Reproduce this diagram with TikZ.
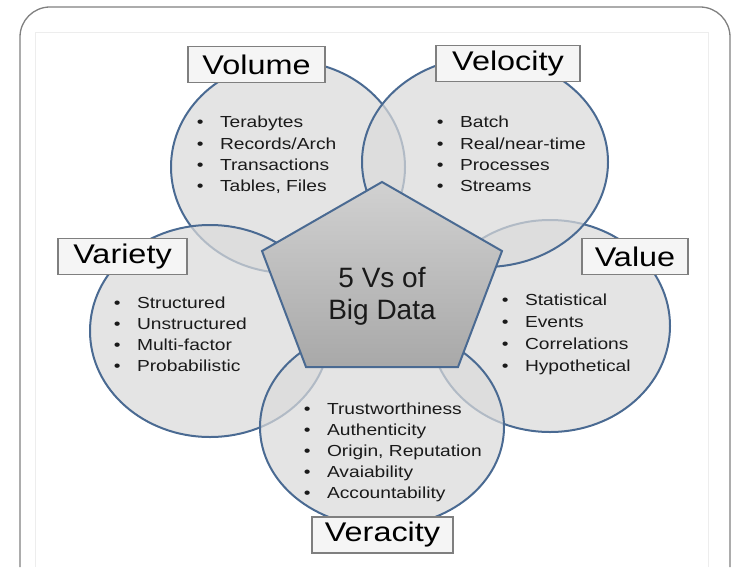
\documentclass[tikz,border=0pt]{standalone}
\usepackage{fontspec}
\setmainfont{Liberation Sans}
\newfontfamily\widesans[FakeStretch=1.2]{Liberation Sans}
\usetikzlibrary{shapes.geometric}
\definecolor{rim}{HTML}{4A6A92}
\definecolor{ovfill}{HTML}{DADADA}
\definecolor{boxrim}{HTML}{7F7F7F}
\definecolor{boxfill}{HTML}{F5F5F5}
\definecolor{txt}{HTML}{1A1A1A}
\tikzset{
  vell/.style={ellipse, draw=rim, line width=2pt, fill=ovfill, fill opacity=0.72, inner sep=0pt},
  vlabel/.style={rectangle, draw=boxrim, line width=1.4pt, fill=boxfill, inner sep=0pt,
                 minimum height=36pt, font=\widesans\fontsize{27}{30}\selectfont, text=black},
  blist/.style={anchor=base west, inner sep=0pt, font=\widesans\fontsize{16}{21.2}\selectfont, text=txt},
  frame/.style={draw=black!50, line width=1.3pt, rounded corners=30pt},
  pent/.style={draw=rim, line width=2pt, top color=black!18, bottom color=black!34}
}
\newcommand{\bl}[1]{\begin{tabular}[t]{@{}l@{\hspace{16.5pt}}l@{}}#1\end{tabular}}
\begin{document}
\begin{tikzpicture}[x=1pt,y=-1pt]
\useasboundingbox (0,0) rectangle (735,567);
% frame
\draw[frame] (20,567) -- (20,7) -- (730,7) -- (730,567);
\draw[draw=black!7, line width=1pt] (35,567) -- (35,33) -- (708,33) -- (708,567);
% ellipses (order matters for faded borders)
\node[vell, minimum width=234pt, minimum height=212pt] (vol) at (288,167) {};
\node[vell, minimum width=240pt, minimum height=212pt] (var) at (210,331) {};
\node[vell, minimum width=240pt, minimum height=212pt] (val) at (550,326) {};
\node[vell, minimum width=246pt, minimum height=210pt] (vel) at (485,162) {};
\node[vell, minimum width=244pt, minimum height=200pt] (ver) at (382,427) {};
% pentagon
\coordinate (p1) at (382,182);
\coordinate (p2) at (502,251);
\coordinate (p3) at (458,367);
\coordinate (p4) at (306,367);
\coordinate (p5) at (262,251);
\draw[pent] (p1) -- (p2) -- (p3) -- (p4) -- (p5) -- cycle;
\node[align=center, font=\fontsize{28}{32}\selectfont, text=txt] (core) at (382,296) {5 Vs of\\Big Data};
% lists
\node[blist] (volT) at (196.6,128) {\bl{•&Terabytes\\•&Records/Arch\\•&Transactions\\•&Tables, Files}};
\node[blist] (velT) at (436.6,128) {\bl{•&Batch\\•&Real/near-time\\•&Processes\\•&Streams}};
\node[blist] (varT) at (113.6,308) {\bl{•&Structured\\•&Unstructured\\•&Multi-factor\\•&Probabilistic}};
\node[blist, font=\widesans\fontsize{16}{22}\selectfont] (valT) at (501.6,305) {\bl{•&Statistical\\•&Events\\•&Correlations\\•&Hypothetical}};
\node[blist] (verT) at (303.6,414) {\bl{•&Trustworthiness\\•&Authenticity\\•&Origin, Reputation\\•&Avaiability\\•&Accountability}};
% labels
\node[vlabel, minimum width=137pt] (volL) at (256.5,64.5) {Volume};
\node[vlabel, minimum width=144pt] (velL) at (508,63.5) {Velocity};
\node[vlabel, minimum width=129pt] (varL) at (122.5,256.5) {Variety};
\node[vlabel, minimum width=106pt] (valL) at (635,256.5) {Value};
\node[vlabel, minimum width=141pt] (verL) at (382.5,535) {Veracity};
\end{tikzpicture}
\end{document}
